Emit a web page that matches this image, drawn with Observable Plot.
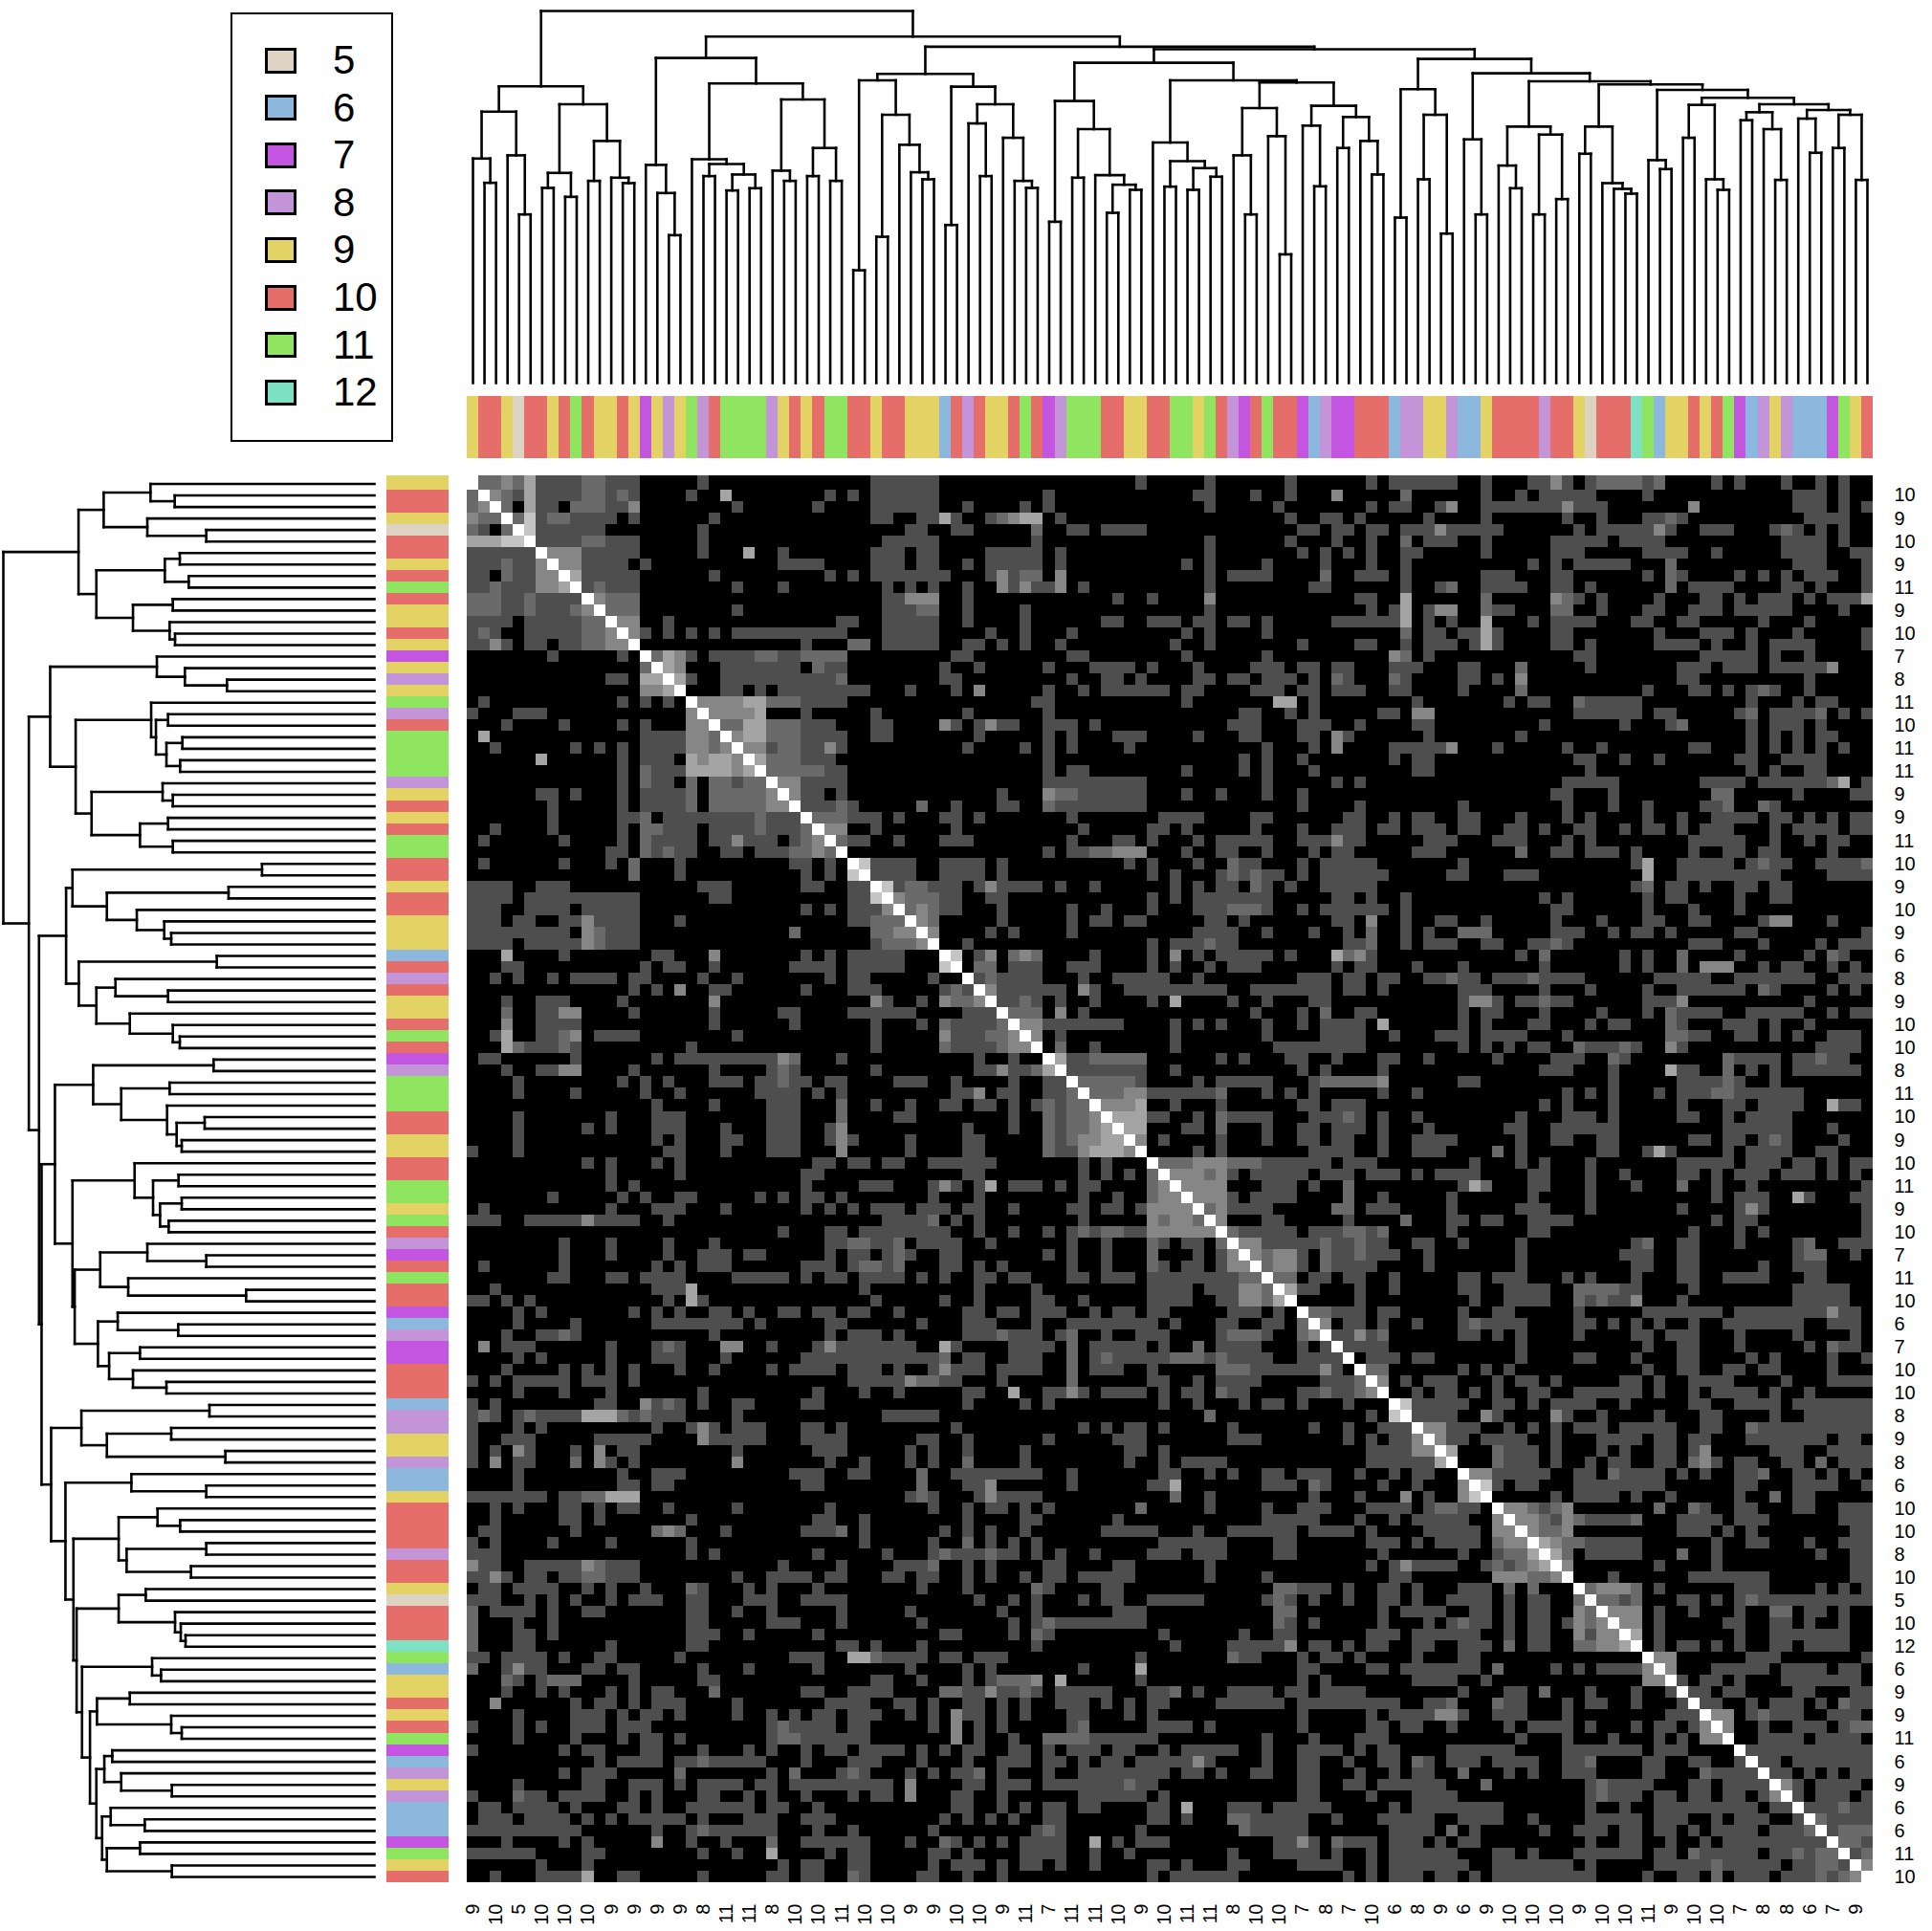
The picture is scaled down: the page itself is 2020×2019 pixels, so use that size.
<!DOCTYPE html>
<html><head><meta charset="utf-8">
<script src="https://cdn.jsdelivr.net/npm/d3@7"></script>
<script src="https://cdn.jsdelivr.net/npm/@observablehq/plot@0.6"></script>
<style>
html,body{margin:0;background:#fff}
#page{position:relative;width:2020px;height:2019px;overflow:hidden;font-family:"Liberation Sans",Arial,sans-serif}
#page>svg{position:absolute;background:transparent}
#legend{position:absolute;left:241px;top:13px;width:166px;height:445px;border:2.5px solid #000;box-sizing:content-box}
.sw{position:absolute;left:34px;width:27px;height:21px;border:3px solid #000}
.lb{position:absolute;left:105px;font-size:42px;line-height:42px;color:#000}
</style></head><body><div id="page"><div id="legend"></div></div>
<script>
const categories=[5,6,7,8,9,10,11,12];
const categoryColors=["#DDD3C3","#8DB8DD","#C355E0","#C494D8","#E3D264","#E56E6A","#90E560","#7DE2C4"];
const leafCategory=[9,10,10,9,5,10,10,9,10,11,10,9,9,10,9,7,9,8,9,11,8,10,11,11,11,11,8,9,10,9,10,11,11,10,10,9,10,10,9,9,9,6,10,8,10,9,9,10,11,10,7,8,11,11,11,10,10,9,9,10,10,11,11,9,11,10,8,7,10,11,10,10,7,6,8,7,7,10,10,10,6,8,8,9,9,8,6,6,9,10,10,10,10,8,10,10,9,5,10,10,10,12,11,6,9,9,10,9,10,11,7,6,8,9,8,6,6,6,7,11,9,10];
const greys=["#000000","#4e4e4e","#6a6a6a","#868686","#a4a4a4","#c4c4c4","#ffffff"];

// similarity levels, block by block: "col", "from-to", optional "=level" (default level 1)
const blockAA=["1-2=2 3=3 4=2 5=4 6-9 10-11=2 12-14 20 35-40","2=3 3=2 4 5=4 6-9 10-11=2 12 13=2 14 19 22=4 31 33 35-40","3=2 5=4 6-7 9-11=2 12-13 14=3 23 30 35-40","4=2 5=5 6 7-8=2 9-12 14 21 35-36 39-40","5=5 6-11 20 38-39","6-9 10-11=2 12-14 20 36-40","7-9=3 10-14 20 24=4 27 35-37 39-40","8-9=3 10-13 15 27-30 35-37 39-40","9=4 10-14 21 31 33 35-40","10 11=2 12-14 23 27 36 38 40","11=3 12-14=2 36-37 38-40=3","12-14=2 23 36-38 39-40=2","13-14=3 17 32-33 36-40","14=3 15 17 19 21 23-32 36-40","29 33-34=2 36-40","16=2 17=4 18=3 19 21-24 25-26=2 27-28 29-32=2","17=4 18=3 22-28 30=2 31-32","18=4 19 22-31 32=2","22-23 25 27-34 38","20-23=3 24-25=4 26-28=2 29-32","21-24=3 25=4 29 35","22-23=2 24-25=4 26-28=2 29-31 35-36","23=3 24-25=4 26-28=2 29-32 35-36","24-25=3 26 27-28=2 29-30 31=3 32","25=4 26-28=2 29-31","26-30=2 31-32","27-28=3 29-32","28=3 29-30 32","29-31 32=2 33 39=2","30=2 31-32=2 33-35 37","31-32=3 35","32=2 33-34 37","","34=5 35 36-38","35-38","36=5 37 38-39=2 40","37=3 38-40=2","38=2 39=3 40=2","39=3 40=2","40=3",""];
const blockAB=["17 23 30 37 39-40","9 22-23 27 30 34=3 40=2","2 7 9 23 29 37 39-40","0=4 1 4 5=2 6=3 7-8=4 10 30 33-34 36","1-2 8=2 11-12 14-17 31-32 34-35 37-38 40","8 23 30 34 37 40=2","4-8 10 23 31 33 35 37 40","2 4-8 10 21 23 28 33 37 40","0 4 5=3 6 7-8=2 10=3 23 25-28 33=2 36-38 40","2 5=3 6 7=3 8-9 10=3 12 23 32-33 40","2 15 18 23=3 36-37 40=4","2 7 23 37 39 40=4","2 7 14-15 18-20 22-23 25-26 28 34-39 40=4","4 7 11 21 23 28 40=2","2-3 5 7 10 20 23 31 36-37 40","1-2 11-12 21 28 39=3 40=2","0 3 9 13-16 18 22 27-29 31-32 34-35 39-40","0-1 11 14-15 17 22-23 25-26 28-30 32 34=2 35 39=2 40","1 3=3 9 12 14-19 21-22 27-29 31-32 34-36 39-40","8-9 21 29-30=4 32","2 9 26-27 30 32 38-39","0=3 1 3 4=3 5-6 9-11 13 25-27 31-33 36","3 9 11 15-17 22 26-27 31-32 34=3 35","2 7 9 11 16 28 32 34=3 39-40","9 26 28 31 39","9 11-12 21 26 28 32","9-17 28 34 36","5 9=3 10-11=2 12-17 21 24 28 31","1 5-6 9=2 10-17 31 36","0-1 3 11 19-22 27-28 35-36 39","1 12 18-19 21 27 31 34-36 38-39","0-2 11 15-16 18 22 24-28 31-33 34=3 35-36","9 11-12 13-14=2 15-17=3 21 24-25 28 32 34-35","0-3 5 16 18 22 25=2 26-27 31 33-37","0-3 5 18 20 24 25=2 26 27=2 28-29 31 33-38","0-1 3 4=3 5-8 10 13 20 22 24-25 27=2 28 30 33-37","0-1 4-5 18 20 22-28 34-35 37 40","0-1 5 11 14 18 22-24 25-27=2 28 31 33-38 40","5 11 13-14 16-17 23-24 26 34-35 37=3 40","4 6 11 22-25 28 32 35 37=2 40","2 18 20-22 23=2 24-25 35-36 37=2 40"];
const blockAC=["0-3 6 10-11 12=3 13 15 16-19=2 20 21=2 26 28 32 35 37","6 9 11-15 20 33-35 37","2 3=3 6 7-12 13=3 14-16 24=3 33-35 37 39","1 6 13 16 20-21 22=2 23 34-36 37","0-1 2=3 3-7 14 16 17-20 21=3 22 25-27 31 32=2 33 35 37","1-3 6 12-16 18-21 32-35 37","0 6 12-14 20-23 26 32-35 38-39","10 12 14-18 22=2 33-35 39","6-8 12-13 20 22=2 23 28 30 32 34-36 39","2 3=2 6-9 12-13 15 22=2 24-27 32-33 35 39","6=2 12=3 13=2 14 16 21 25-26 28 30-32 34 36-38 39=4","1 2-3=3 6=2 7-8 12-13=2 16 20-21 24-26 28-32 37","1 3 6=4 10 12-15 19-20 23-24 30 34","1-2 4-5 6=4 7 12-13 21 25-27 29 33 39","1-3 5 6=4 7 12-13 15 21-24 26 29 31-34 39","1 14-15 25-29 31 34","0 4-5 9=2 15 23-25 27-29 31-35 36=3","4-5 7 9=3 23-24 34","4 9=2 20 24-25 27 29 30=2 31 34","0 8 10-11 14=2 15-19 29 33 35-36","0-1=3 14-19 21-22 28 29=2 31-34 35=2 37 39","0-1 11 18 22 23=2 29 31-33 35","1 9 29 31 33 35-36","0-2 3=3 7 13 16 24-25 29 31 33 35 37","0-1 14-15 18 21 28-29 32-35","0-1 15 29 31 34-35","13-17 25-28 30-35 36=2 37=4 39","12-13 17 26-27=2 33 38-39","4 13 17 20 25-26 27=2 30=2 31","0-1 4-5 9 13 15 20 23 26-29 31-32 34 36 38-39","0-2 4-5 8-9 11 14-15 18 20-21 23 25-27 31 33-36 38-39","1-3 7-9 13 15 24-28 31 34 36-37","0-2 9=2 12-13 15-17 19 24 27-28 30-31 36","4 19 20=4 23-27 29 30=2 31-32 35-38 39=2","3-4 8-10 20=4 23-31 36-39","19 20=2 22-23 25 28-29 31-32","11 13 20 22-23 28 31-32","12-13 20 24 28","2-3 6 12 16 20-21 24-25 30 31-32=3 36","1 4-6=2 12-14 17 19-20 22 28-29 39","1-3 6-7 10-11 12=2 13 24-26 30 35 37-39"];
const blockBB=["1=5 3 4=3 6=2 7=3 8=2 13 18 20=3 22 24-28 30 34=4 35=2 36=3 37","3-4=2 6-8 11-13 18 20 23 25-27 34 36-37","3 4=2 5-8 12 15-19 22 31-33 35-36 38-39","4=3 5-10 12=3 13 16-24 27-33 35-36 38","5-6 7=2 8 10 13 18 20=4 25 28 32-33","6-8=2 10=3 12 27 31 33=2 36-37","7-8=3 9 10-15 20 22 24 28 31 33-36 38=4","8=3 10 20 28 33-36 39","10=2 13 20 29-36","10=4 11-12 13-17=2 24 26 30-31 34 38-39","11-17 20 31 33 38","12-16=2 17 22 24-28 32 33-37=2 38=3","13-15=2 16-17=3 18-23 24=2 28 30 32 38","14-16=3 17=4 20 24 31-32 34-36","15=4 16-17=4 18-19 22 24=2 25-28 32-34 35=2 36 38","16-17=4 21-22 24=2 28 31-32 34-36 38","17=3 19 24 28 31-32 34-35 38","22 24 32-35 38","19-21=2 22-24=3 25-27=2 28-33 35-37","20-22=3 23=2 24=3 25 27-31 33-35 37-39","21-24=3 28-30 32 35=2","22-24=3 25 27-30 35=2 38","23=2 24=3 25-28 34-35=2 37-39","24=3 28-29 35 40=2","25=2 26-30 32-34 35-36=2 37 38=2","26-27=3 28-32 33=2 34-35 36=2 37-38","27=3 28=2 29-30=3 31 33=2 34-35 36=2 37-39","28=2 29-30=3 31 33=2 34-37","29-30=2 32-33 35-36 39","30=4 31-32 36 39","36","32-33=2 34-35 36 38-39","33=3 35-36 38","34-35 36=3 37 38=2","35 36-38","37-39","37-38=2","38=3 40","","40=5",""];
const blockBC=["9 11=2 18 20 23=2 28 34 36=2 37","0 4 11 18 20 23=2 25-27=3 30 32-33 36 38","1-2 3=2 4-5 7-9 10=2 11-14 21-25 28-34 37-39","4-6 11 15 20 23-28 30=2 31 36 38","4 5-6=3 7 9-10 11=2 12-13 20-22 23=3 34","4 6-7 11 16 20 22=2 23 24-26 29-33 36 38-39","4 6 10-11 15 17-18 22=2 23 27-29 31 34","2-4 6-9 13 22-23=2 24-25 28-29 31 33 36-38","4 6 8 10-11 14=2 15-17 18=2 19 22=3 23 35-38","1 7 12-14 17=2 18 27=2 28-31 33-34 35=2 36-37","11-13 17 22=4 23-24 27=2 29 31 33-38","4-5 17 23-26 27=2 28 31","0 13 15 17 21 23-25 26-27=2 28-33","11 13 17 23 27-28 30-33 36=4 37-38","0 9 13-15 17 23-24 27 29-32","1 8-9 12-17 27-32 36","0-3 9 12-13 16-17 24-25 27-28 30 31=2 32 37","0-2 7=2 9 16-17 20 21=4 22 27 29-32 35-36","5 9 11 15 23-27 29-31 33-34 36 38-39","0 2-5 10-11 15 18 23-24 26 28-30 32-34 36 38","4 5=4 6=2 10-11 15 19 23=2 26 29 39","3 10 15 26 28-30 33=4 34 38-39","3 9-11 15 23 28 29=3 30 39","3-4 6-7 10-13 26 28-29 39","3 10-11 24 28 30 39","0-1 4 9 19 20=2 23-24 28 33 34=2 37-39","1 9 18-20 23-24 33 34-35=2 38","1 9 19-20 23-24 30 33 34-35","4-5 7-9 13 15 19 23-24 27-30 34-35","4-5 8-11 14-17=2 18-19 24 33-37","5 8-11 14=2 15 16=2 17-18 19=3 23 33-37","4 7-8 14 20-26 28-35 36=3 37-38","0 4 5=2 6-9 14-15 17 19 21 24 27-33 36-38","4-5 7 9 14 19-20 22-24 28 33 38","9 20 23-24 28 34 36=2 37-38","0-1 9 14-15 19 23-24 29 31 36 39","4 6 8 20 23-24 27-28 30-31 36","1-3 7 9-10 12 18-19 21 24-27 32 36-39","0 2-3 5 7 10-11 14-19 21 24 26-29 31 34","0-4 7-8 10 12-15 18 24-25 28-31 33-39","0-3 6=3 7 12=3 13 16 21 25-26 31 34 35-39"];
const blockCC=["1-2=3 3-5 8 10 12 14-16 18-22 25-26 29=2 30-39","2=3 3-4 6-9 12 16-19 21-22 24-25 29-35 37-38","3=4 7=2 8-10 12 16 18 21-22 24 25=3 31-33 36-39","7=2 8-10 12 15 17-18 21-22 24=2 25=3 26 28-29 32-33 35=2 37-39","5-6=3 7-11 14-15 17=2 18-21 23 25 28-29 30=2 33-34 36 38","6=5 7 9-10 14-21 28-29 33-36 39","12 14-17 19 22 28 31=2 33-34","8-9=3 10=2 11 12=2 13=3 21=2 24=2 25 28-29 33-34 37-39","9-10=3 11=2 12 13=3 14=2 15-18 19=2 23-26 28-30 37-39","10=3 11-12=2 13=3 23-25 27 29 38-39","11=4 12=3 13-14=2 15-19 26 29-30 34 37-39","12=4 13=2 15-19 23=2 26 35 38-39","13=3 21 26 38-39","17 24-30 38-39","15=2 16-18=3 19=2 21 28-30 35 37 39","16-17=2 18 19=2 23-24 26 28 29=2 30-39","17-19=3 21 24 28 31-32=2 34-35 37","18-19=3 21 27-28 31-32 34 37","19=4 21 28 31-37","21 23-24 26 28 31-32 34-37","21-22=3 29-31 39","22=3 26-30 32-35 37-38","23 25-26 28 32-38","24 25 27-28 33-34 38-39","25 26 29 31-33 35 37=2 38-39","26-27=3 29 30=2 31-33 36-38","27=3 30 33-35 37 38-39=2","30-33 35-38","29-39","30 31 33-39","31-32 34 36 38-39","32=3 33 35-38","33 35-37 39","34-36 37=2 38-39","35=2 36-38 39","36 37-38=2 39=2","37-38=2 39","38 39=2","39=3",""];

// dendrogram: [merge height, left, right]; 0 is a leaf, leaves run in display order
const clusterA=[929,[850,[703,0,[627,0,0]],[713,0,[528,0,0]]],[873,[658,[611,0,0],[583,0,0]],[758,[633,0,0],[643,0,[626,0,0]]]]];
const clusterC=[1018,[683,0,[595,0,[463,0,0]]],[938,[701,0,[686,[648,0,0],[653,[603,0,0],[610,0,0]]]],[888,[665,0,[633,0,0]],[736,[648,0,0],[633,0,0]]]]];
const clusterF=[968,[948,[353,0,0],[840,[458,0,0],[746,0,[660,0,[638,0,0]]]]],[928,[495,0,0],[873,[813,0,[648,0,0]],[768,0,[633,0,[611,0,0]]]]]];
const clusterG=[1003,[883,[505,0,0],[795,[643,0,0],[651,0,[621,[533,0,0],[605,0,0]]]]],[948,[753,0,[695,[615,0,0],[673,[605,0,0],[646,0,0]]]],[941,[861,[713,0,[528,0,0]],[773,0,[403,0,0]]],[868,[806,0,[616,0,0]],[833,[736,0,0],[758,0,[653,0,0]]]]]]];
const clusterW=[855,[828,0,[721,0,0]],[840,[736,0,0],[636,0,0]]];
const clusterT=[918,[698,0,[670,0,0]],[893,[871,[768,0,0],[638,0,[605,0,0]]],[873,[848,[823,0,0],[795,0,[636,0,0]]],clusterW]]];
const clusterP=[945,[803,[681,0,[610,0,0]],[778,[528,0,0],[576,0,0]]],[935,[803,[718,0,0],[626,0,[608,0,[593,0,0]]]],clusterT]];
const clusterX=[1015,[920,[518,0,0],[840,[638,0,0],[468,0,0]]],[970,[763,0,[528,0,0]],clusterP]];
const tree=[1165,clusterA,[1085,clusterC,[1053,clusterF,[1045,clusterG,clusterX]]]];

const n=leafCategory.length;
const M=d3.range(n).map(()=>new Array(n).fill(0));
function fill(block,ro,co){block.forEach((s,i)=>{s.split(" ").filter(Boolean).forEach(t=>{
  const [r,l]=t.split("=");const [a,b]=r.split("-").map(Number);const lv=l?+l:1;
  for(let j=a;j<=(b===undefined?a:b)&&co+j<n;j++){if(ro+i<n){M[ro+i][co+j]=lv;M[co+j][ro+i]=lv;}}
});});}
fill(blockAA,0,0);fill(blockAB,0,41);fill(blockAC,0,82);fill(blockBB,41,41);fill(blockBC,41,82);fill(blockCC,82,82);
for(let i=0;i<n;i++)M[i][i]=6;
const cells=[];M.forEach((r,i)=>r.forEach((v,j)=>cells.push({row:i,col:j,v})));
const idx=d3.range(n);

const links=[];let leaf=0;
(function walk(node){
  if(node===0){return {p:(leaf++)+0.5,h:0};}
  const a=walk(node[1]),b=walk(node[2]),h=node[0];
  links.push({p1:a.p,h1:h,p2:b.p,h2:h},{p1:a.p,h1:a.h,p2:a.p,h2:h},{p1:b.p,h1:b.h,p2:b.p,h2:h});
  return {p:(a.p+b.p)/2,h};
})(tree);

const X0=488,X1=1958,Y0=499.5,Y1=1968,HMAX=1165;
const page=document.getElementById("page");
function place(svg,l,t){svg.style.left=l+"px";svg.style.top=t+"px";page.appendChild(svg);}
const lineStyle={stroke:"#000",strokeWidth:2.6,strokeLinecap:"square"};
const baseStyle={background:"transparent",fontFamily:"'Liberation Sans',Arial,sans-serif"};

// top dendrogram
place(Plot.plot({width:1550,height:410,marginLeft:X0-470,marginRight:2020-X1,marginTop:11,marginBottom:10,style:baseStyle,
  x:{domain:[0,n],axis:null},y:{domain:[0,HMAX],axis:null},
  marks:[Plot.link(links,{x1:"p1",y1:"h1",x2:"p2",y2:"h2",...lineStyle})]}),470,0);
// left dendrogram
place(Plot.plot({width:400,height:1490,marginLeft:3,marginRight:9,marginTop:Y0-490,marginBottom:1980-Y1,style:baseStyle,
  x:{domain:[HMAX,0],axis:null},y:{domain:[n,0],axis:null},
  marks:[Plot.link(links,{x1:"h1",y1:"p1",x2:"h2",y2:"p2",...lineStyle})]}),0,490);
// colour bars
const catColor={type:"ordinal",domain:categories,range:categoryColors};
place(Plot.plot({width:1550,height:65,marginLeft:X0-470,marginRight:2020-X1,marginTop:0,marginBottom:0,style:baseStyle,
  x:{type:"band",domain:idx,padding:0,round:false,axis:null},color:catColor,
  marks:[Plot.cell(idx,{x:d=>d,fill:d=>leafCategory[d],inset:0,shapeRendering:"crispEdges"})]}),470,414);
place(Plot.plot({width:65,height:1490,marginLeft:0,marginRight:0,marginTop:Y0-490,marginBottom:1980-Y1,style:baseStyle,
  y:{type:"band",domain:idx,padding:0,round:false,axis:null},color:catColor,
  marks:[
    Plot.cell(idx,{y:d=>d,fill:d=>leafCategory[d],inset:0,shapeRendering:"crispEdges"}),
    Plot.cell([0],{y:d=>d,fill:d=>leafCategory[d],insetTop:-2.5,insetBottom:8,shapeRendering:"crispEdges"})
  ]}),404,490);
// heatmap
place(Plot.plot({width:1550,height:1529,marginLeft:X0-470,marginRight:2020-X1,marginTop:Y0-490,marginBottom:2019-Y1,style:baseStyle,
  x:{type:"band",domain:idx,padding:0,round:false,label:null},
  y:{type:"band",domain:idx,padding:0,round:false,label:null},
  color:{type:"ordinal",domain:[0,1,2,3,4,5,6],range:greys},
  marks:[
    Plot.cell(cells,{x:"col",y:"row",fill:"v",inset:0,shapeRendering:"crispEdges"}),
    Plot.cell(cells.filter(d=>d.row===0&&d.col>0),{x:"col",y:"row",fill:"v",insetTop:-2.5,insetBottom:8,shapeRendering:"crispEdges"}),
    Plot.axisY(idx.filter(i=>i%2==1),{anchor:"right",tickSize:0,tickPadding:22,fontSize:20,label:null,tickFormat:i=>leafCategory[i]}),
    Plot.axisX(idx.filter(i=>i%2==0),{anchor:"bottom",tickSize:0,tickPadding:22,fontSize:20,tickRotate:-90,label:null,tickFormat:i=>leafCategory[i]})
  ]}),470,490);
// legend
const legend=document.getElementById("legend");
categories.forEach((c,i)=>{
  const s=document.createElement("div");s.className="sw";s.style.top=(34.5+i*49.6)+"px";s.style.background=categoryColors[i];legend.appendChild(s);
  const t=document.createElement("div");t.className="lb";t.textContent=c;t.style.top=(27+i*49.6)+"px";legend.appendChild(t);
});
</script></body></html>
